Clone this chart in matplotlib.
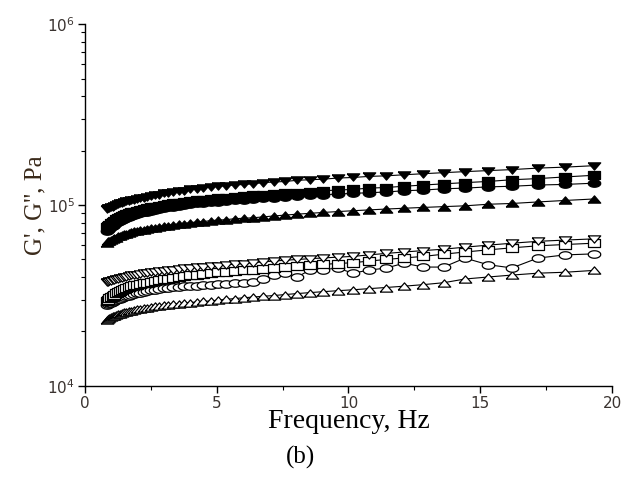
import numpy as np
import matplotlib.pyplot as plt
from matplotlib.ticker import MultipleLocator, LogLocator, NullFormatter, FixedFormatter, FixedLocator

# frequency sweep, Hz
freq = [0.83, 0.88, 0.93, 0.99, 1.05, 1.11, 1.18, 1.25, 1.32, 1.40, 1.49, 1.58, 1.67, 1.77,
        1.88, 1.99, 2.11, 2.23, 2.37, 2.51, 2.66, 2.82, 2.99, 3.17, 3.36, 3.56, 3.78, 4.00,
        4.24, 4.50, 4.77, 5.05, 5.36, 5.68, 6.02, 6.38, 6.76, 7.17, 7.60, 8.05, 8.54, 9.05,
        9.59, 10.17, 10.78, 11.42, 12.11, 12.84, 13.61, 14.42, 15.29, 16.20, 17.18, 18.21, 19.30]

# moduli in kPa (filled = G', open = G'')
g1_down = [95, 96, 96.5, 97, 98, 99, 100, 101, 102, 103, 104, 105, 105, 106, 107, 108, 109, 110,
           111, 112, 113, 114, 116, 117, 118, 119, 120, 122, 123, 125, 126, 127, 128, 129, 130, 131,
           133, 134, 135, 137, 138, 139, 141, 142, 144, 145, 147, 149, 151, 153, 155, 157, 160, 162, 165]
g1_square = [76, 77, 78, 80, 81, 82, 84, 85, 86, 87, 88, 89, 90, 91, 92, 93, 94, 95, 96, 97, 98, 99,
             100, 101, 102, 103, 104, 105, 106, 107, 108, 109, 110, 111, 112, 113, 114, 115, 116, 117,
             118, 120, 121, 122, 124, 125, 127, 129, 131, 133, 135, 138, 140, 143, 146]
g1_circle = [72, 73, 74, 76, 77, 78, 80, 81, 82, 83, 84, 85, 86, 87, 88, 89, 90, 91, 92, 93, 94, 95,
             96, 97, 98, 99, 100, 101, 102, 103, 104, 104, 105, 106, 107, 108, 109, 110, 111, 112, 113,
             114, 115, 116, 117, 118, 120, 121, 123, 124, 126, 127, 129, 130, 132]
g1_up = [62, 63, 63.5, 64, 65, 65.5, 66, 67, 67.5, 68, 69, 69.5, 70, 71, 71.5, 72, 72.5, 73, 74, 74.5,
         75, 76, 76.5, 77, 78, 78.5, 79, 80, 80.5, 81, 82, 82.5, 83, 84, 84.5, 85, 86, 87, 88, 89, 90,
         91, 92, 93, 94, 95, 96, 97, 98, 99, 101, 102, 104, 106, 108]
g2_down = [37.5, 37.7, 38, 38.2, 38.5, 38.7, 39, 39.2, 39.5, 39.7, 40, 40.2, 40.5, 40.8, 41, 41.3,
           41.6, 41.9, 42.2, 42.5, 42.8, 43.1, 43.4, 43.7, 44, 44.3, 44.6, 45, 45.3, 45.6, 46, 46.3,
           46.7, 47.1, 47.5, 48, 48.5, 49, 49.5, 50, 50.5, 51, 51.5, 52, 53, 54, 55, 56, 57, 58.5, 60,
           61.5, 63, 64, 65]
g2_square = [29.5, 30, 30.5, 31, 31.5, 32, 32.5, 33, 33.5, 34, 34.5, 35, 35.3, 35.6, 36, 36.3, 36.6,
             37, 37.3, 37.6, 38, 38.4, 38.8, 39.2, 39.6, 40, 40.4, 40.8, 41.2, 41.6, 42, 42.4, 42.8,
             43.2, 43.6, 44, 44.5, 45, 45.5, 46, 46.5, 47, 47.5, 48, 49, 50, 51, 52, 53.5, 55, 56.5,
             58, 59.5, 60.5, 61.5]
g2_circle = [28, 28.3, 28.6, 28.9, 29.2, 29.5, 29.8, 30.1, 30.4, 30.7, 31, 31.3, 31.6, 31.9, 32.2,
             32.5, 32.8, 33.1, 33.4, 33.7, 34, 34.3, 34.6, 34.9, 35.1, 35.3, 35.5, 35.7, 35.9, 36.1,
             36.3, 36.5, 36.8, 37.0, 37.3, 37.6, 39, 40.9, 42, 40, 43.7, 44, 44.8, 42, 43.7, 44.8,
             47.7, 45.4, 45.4, 50.9, 46.8, 44.9, 50.9, 53, 53.7]
g2_up = [23, 23.3, 23.6, 23.9, 24.2, 24.5, 24.7, 24.9, 25.1, 25.3, 25.5, 25.7, 25.9, 26.1, 26.3, 26.5,
         26.7, 26.9, 27.1, 27.3, 27.5, 27.7, 27.9, 28.1, 28.3, 28.5, 28.7, 28.9, 29.1, 29.3, 29.5,
         29.8, 30.1, 30.4, 30.7, 31.0, 31.3, 31.6, 32, 32.4, 32.8, 33.2, 33.6, 34, 34.5, 35, 35.6,
         36.3, 37.2, 39, 40, 41, 42, 42.5, 43.5]

# the original figure is stretched sideways, so the markers are wider than tall
sq = [(-1, -0.62), (1, -0.62), (1, 0.62), (-1, 0.62), (-1, -0.62)]
tri_up = [(-1, -0.58), (1, -0.58), (0, 0.58), (-1, -0.58)]
tri_down = [(-1, 0.58), (1, 0.58), (0, -0.58), (-1, 0.58)]
t = np.linspace(0, 2 * np.pi, 40)
ell = list(zip(np.cos(t), 0.6 * np.sin(t)))

fig = plt.figure(figsize=(6.33, 4.83), dpi=100)
ax = fig.add_axes([0.134, 0.201, 0.833, 0.749])

series = [
    (g2_up, tri_up, 'white'),
    (g2_circle, ell, 'white'),
    (g2_square, sq, 'white'),
    (g2_down, tri_down, 'white'),
    (g1_up, tri_up, 'black'),
    (g1_circle, ell, 'black'),
    (g1_square, sq, 'black'),
    (g1_down, tri_down, 'black'),
]
for vals, mk, fc in series:
    ax.plot(freq, np.array(vals) * 1000, color='black', lw=0.8, marker=mk, ms=9,
            mfc=fc, mec='black', mew=0.9)

ax.set_yscale('log')
ax.set_xlim(0, 20)
ax.set_ylim(1e4, 1e6)
ax.xaxis.set_major_locator(MultipleLocator(5))
ax.xaxis.set_minor_locator(MultipleLocator(2.5))
ax.yaxis.set_major_locator(FixedLocator([1e4, 1e5, 1e6]))
ax.yaxis.set_major_formatter(FixedFormatter([r'$10^4$', r'$10^5$', r'$10^6$']))
ax.yaxis.set_minor_locator(LogLocator(base=10, subs=np.arange(2, 10)))
ax.yaxis.set_minor_formatter(NullFormatter())

for side in ['top', 'right']:
    ax.spines[side].set_visible(False)
for side in ['left', 'bottom']:
    ax.spines[side].set_linewidth(1.0)

tick_col = '#3a3330'
ax.tick_params(which='major', direction='out', length=5, width=1, labelsize=11, colors='black',
               labelcolor=tick_col, pad=2)
ax.tick_params(which='minor', direction='out', length=3, width=0.8)

ax.set_xlabel('Frequency, Hz', fontfamily='Liberation Serif', fontsize=20, labelpad=-1)
ax.set_ylabel("G', G'', Pa", fontfamily='Liberation Serif', fontsize=18, labelpad=1,
              color='#3a2a1a')

fig.text(0.474, 0.052, '(b)', fontfamily='Liberation Serif', fontsize=18, ha='center', va='center')

fig.savefig('out.png', dpi=100)
